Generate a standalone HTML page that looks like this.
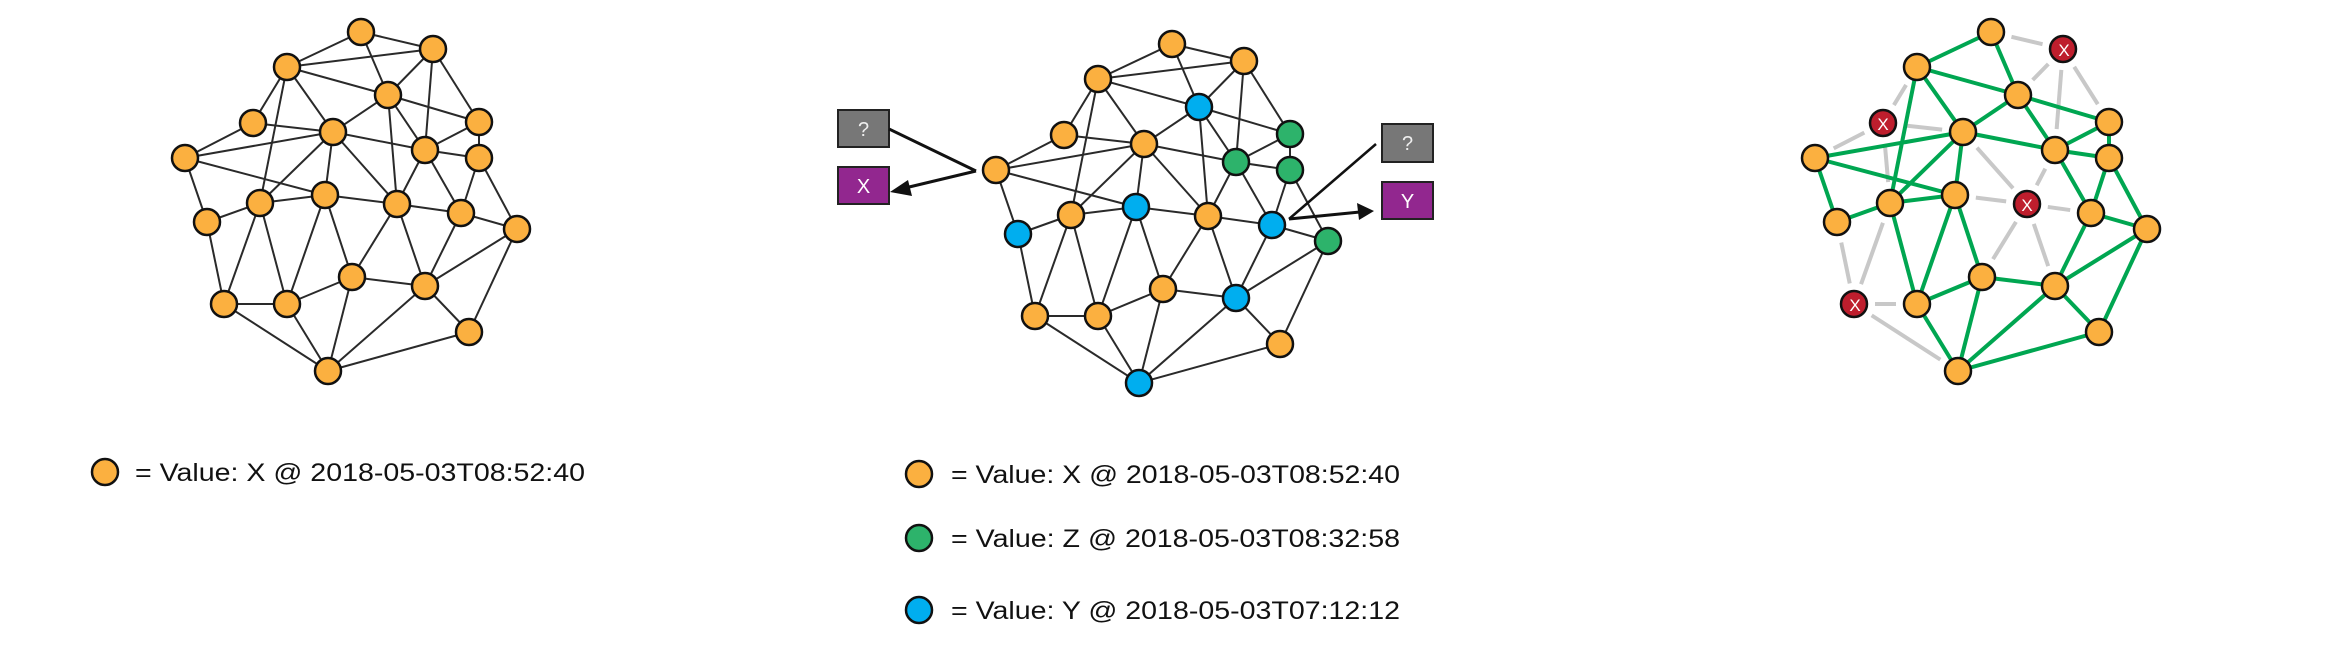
<!DOCTYPE html>
<html><head><meta charset="utf-8"><style>
html,body{margin:0;padding:0;background:#fff;}
svg{display:block;}
text{font-family:"Liberation Sans","DejaVu Sans",sans-serif;}
</style></head><body>
<svg id="s" width="2341" height="651" viewBox="0 0 2341 651" xmlns="http://www.w3.org/2000/svg">
<g id="g1"></g><g id="g2"></g><g id="g3"></g>
<g id="ann">
<rect x="838" y="110" width="51" height="37" fill="#777" stroke="#222" stroke-width="2"/>
<text x="863.5" y="136" font-size="20" fill="#eee" text-anchor="middle">?</text>
<rect x="838" y="167" width="51" height="37" fill="#92278F" stroke="#222" stroke-width="2"/>
<text x="863.5" y="193" font-size="20" fill="#fff" text-anchor="middle">X</text>
<rect x="1382" y="124" width="51" height="38" fill="#777" stroke="#222" stroke-width="2"/>
<text x="1407.5" y="150" font-size="20" fill="#eee" text-anchor="middle">?</text>
<rect x="1382" y="182" width="51" height="37" fill="#92278F" stroke="#222" stroke-width="2"/>
<text x="1407.5" y="208" font-size="20" fill="#fff" text-anchor="middle">Y</text>
<line x1="889" y1="129" x2="976" y2="171" stroke="#111" stroke-width="3"/>
<line x1="976" y1="171" x2="905" y2="188" stroke="#111" stroke-width="3"/>
<polygon points="890,192 908,180 912,196" fill="#111"/>
<line x1="1376" y1="144" x2="1289" y2="219" stroke="#111" stroke-width="2.5"/>
<line x1="1289" y1="219" x2="1360" y2="212" stroke="#111" stroke-width="3"/>
<polygon points="1374,211 1357,203 1359,220" fill="#111"/>
</g>
<g id="leg">
<circle cx="105" cy="472" r="13" fill="#FBB040" stroke="#111" stroke-width="2.5"/>
<text x="135" y="481" font-size="25" fill="#111" textLength="450" lengthAdjust="spacingAndGlyphs">= Value: X @ 2018-05-03T08:52:40</text>
<circle cx="919" cy="474" r="13" fill="#FBB040" stroke="#111" stroke-width="2.5"/>
<text x="951" y="483" font-size="25" fill="#111" textLength="449" lengthAdjust="spacingAndGlyphs">= Value: X @ 2018-05-03T08:52:40</text>
<circle cx="919" cy="538" r="13" fill="#2DB36B" stroke="#111" stroke-width="2.5"/>
<text x="951" y="547" font-size="25" fill="#111" textLength="449" lengthAdjust="spacingAndGlyphs">= Value: Z @ 2018-05-03T08:32:58</text>
<circle cx="919" cy="610" r="13" fill="#00AEEF" stroke="#111" stroke-width="2.5"/>
<text x="951" y="619" font-size="25" fill="#111" textLength="449" lengthAdjust="spacingAndGlyphs">= Value: Y @ 2018-05-03T07:12:12</text>
</g>
<g id="xl">
<text x="2064" y="56" font-size="17" fill="#fff" text-anchor="middle">X</text>
<text x="1883" y="130" font-size="17" fill="#fff" text-anchor="middle">X</text>
<text x="2027" y="211" font-size="17" fill="#fff" text-anchor="middle">X</text>
<text x="1855" y="311" font-size="17" fill="#fff" text-anchor="middle">X</text>
</g>
</svg>
<script>
var N={A:[361,32],B:[433,49],C:[287,67],D:[388,95],E:[253,123],F:[479,122],G:[333,132],H:[185,158],I:[425,150],J:[479,158],K:[325,195],L:[260,203],M:[397,204],N:[461,213],O:[207,222],P:[517,229],Q:[352,277],R:[425,286],S:[224,304],T:[287,304],U:[469,332],V:[328,371]};
var E="AB AC AD CB CD CE CG CL BD BI BF DG DF DI DM EG EH HG HK HO GI GK GL GM IF IJ IM IN FJ JN JP KL KM KQ KT LO LS LT MN MQ MR NP NR OS PR PU QR QT QV RV RU ST SV TV UV".split(" ");
var NS="http://www.w3.org/2000/svg";
function el(g,t,a){var e=document.createElementNS(NS,t);for(var k in a)e.setAttribute(k,a[k]);document.getElementById(g).appendChild(e);return e;}
var col2={D:"#00AEEF",K:"#00AEEF",N:"#00AEEF",O:"#00AEEF",R:"#00AEEF",V:"#00AEEF",F:"#2DB36B",I:"#2DB36B",J:"#2DB36B",P:"#2DB36B"};
function graph(g,dx,dy,colors){
 E.forEach(function(e){var a=N[e[0]],b=N[e[1]];el(g,"line",{x1:a[0]+dx,y1:a[1]+dy,x2:b[0]+dx,y2:b[1]+dy,stroke:"#2a2a2a","stroke-width":2});});
 for(var k in N){el(g,"circle",{cx:N[k][0]+dx,cy:N[k][1]+dy,r:13,fill:(colors&&colors[k])||"#FBB040",stroke:"#111","stroke-width":2.5});}
}
graph("g1",0,0,null);
graph("g2",811,12,col2);
var X={B:1,E:1,M:1,S:1};
var E3=E.filter(function(e){return e!="CB"&&e!="DM";}).concat(["EL"]);
var dx=1630;
E3.forEach(function(e){var a=N[e[0]],b=N[e[1]];var ax=a[0]+dx,ay=a[1],bx=b[0]+dx,by=b[1];
 if(X[e[0]]||X[e[1]]){var L=Math.hypot(bx-ax,by-ay),ux=(bx-ax)/L,uy=(by-ay)/L,s=21;
  el("g3","line",{x1:ax+ux*s,y1:ay+uy*s,x2:bx-ux*s,y2:by-uy*s,stroke:"#c8c8c8","stroke-width":4});}
});
E3.forEach(function(e){if(X[e[0]]||X[e[1]])return;var a=N[e[0]],b=N[e[1]];
 el("g3","line",{x1:a[0]+dx,y1:a[1],x2:b[0]+dx,y2:b[1],stroke:"#00A651","stroke-width":4});});
for(var k in N){el("g3","circle",{cx:N[k][0]+dx,cy:N[k][1],r:13,fill:X[k]?"#BE1E2D":"#FBB040",stroke:"#111","stroke-width":2.5});}
document.getElementById("s").appendChild(document.getElementById("xl"));
</script>
</body></html>
